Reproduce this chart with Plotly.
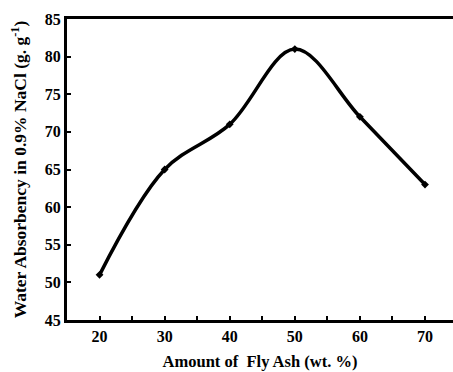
import plotly.graph_objects as go

fly_ash = [20, 30, 40, 50, 60, 70]
absorbency = [51, 65, 71, 81, 72, 63]
x_ticks = [20, 30, 40, 50, 60, 70]
y_ticks = [45, 50, 55, 60, 65, 70, 75, 80, 85]

fig = go.Figure()
fig.add_trace(go.Scatter(
    x=fly_ash, y=absorbency, mode="lines+markers",
    line=dict(color="black", width=3.5, shape="spline", smoothing=1.0),
    marker=dict(symbol="diamond", size=6, color="black"),
    showlegend=False,
))

tickfont = dict(family="Liberation Serif", size=16, color="black", weight="bold")
fig.update_layout(
    width=453, height=372,
    margin=dict(l=67, r=0, t=19, b=52),
    plot_bgcolor="white", paper_bgcolor="white",
    font=dict(family="Liberation Serif", size=16, color="black"),
    xaxis=dict(
        range=[15, 74.3], tickvals=x_ticks, ticks="inside", ticklen=4, tickwidth=2,
        minor=dict(dtick=5, ticks="inside", ticklen=4, tickwidth=2, tickcolor="black"),
        tickcolor="black",
        showline=True, linecolor="black", linewidth=3, mirror=True,
        showgrid=False, zeroline=False,
        tickfont=tickfont,
        title=dict(text="<b>Amount of  Fly Ash (wt. %)</b>", font=dict(family="Liberation Serif", size=16.5), standoff=12),
    ),
    yaxis=dict(
        range=[45, 85], tickvals=y_ticks, ticks="inside", ticklen=4, tickwidth=1.5,
        tickcolor="black",
        showline=True, linecolor="black", linewidth=3, mirror=False,
        showgrid=False, zeroline=False,
        tickfont=tickfont,
        title=dict(text="<b>Water Absorbency in 0.9% NaCl (g. g<sup>-1</sup>)</b>", font=dict(family="Liberation Serif", size=17.5), standoff=14),
    ),
)
fig.write_html("out.html")
